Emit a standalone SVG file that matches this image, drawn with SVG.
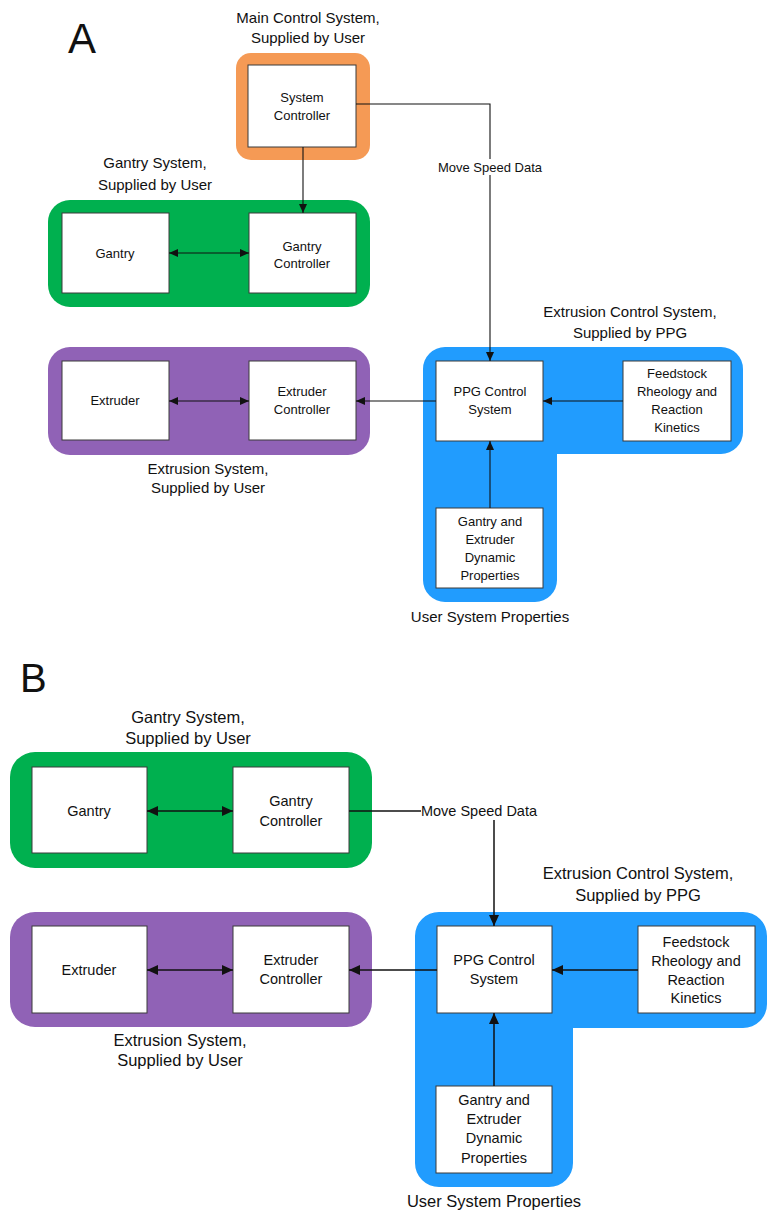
<svg xmlns="http://www.w3.org/2000/svg" width="769" height="1213" viewBox="0 0 769 1213">
<style>
text{font-family:"Liberation Sans",Arial,sans-serif;fill:#111;text-anchor:middle}
.ta{font-size:13px}
.tb{font-size:14.5px}
.tta{font-size:15px}
.ttb{font-size:16.5px}
.box{fill:#fff;stroke:#3a3a3a;stroke-width:1}
.ln{fill:none;stroke:#111;stroke-width:1.1}
.lnb{fill:none;stroke:#111;stroke-width:1.5}
.orange{fill:#F59A55}
.green{fill:#00B04F}
.purple{fill:#9062B6}
.blue{fill:#219CFE}
</style>
<defs>
<marker id="ah" markerUnits="userSpaceOnUse" markerWidth="10" markerHeight="8" refX="9" refY="4" orient="auto-start-reverse"><path d="M0,0 L9,4 L0,8 z" fill="#111"/></marker>
<marker id="bh" markerUnits="userSpaceOnUse" markerWidth="11" markerHeight="10" refX="11" refY="5" orient="auto-start-reverse"><path d="M0,0 L11,5 L0,10 z" fill="#111"/></marker>
</defs>
<rect width="769" height="1213" fill="#fff"/>

<!-- Panel A -->
<text x="68" y="53" style="font-size:42px;text-anchor:start">A</text>

<g id="a-main-system">
<text class="tta" x="308" y="23">Main Control System,</text>
<text class="tta" x="308" y="43">Supplied by User</text>
<rect class="orange" x="236" y="53" width="134" height="107" rx="15"/>
</g>
<g id="a-system-controller">
<rect class="box" x="248" y="65" width="108" height="82"/>
<text class="ta" x="302" y="102">System</text>
<text class="ta" x="302" y="120">Controller</text>
</g>

<g id="a-gantry-system">
<text class="tta" x="155" y="168">Gantry System,</text>
<text class="tta" x="155" y="190">Supplied by User</text>
<rect class="green" x="48" y="200" width="322" height="107" rx="22"/>
</g>
<g id="a-gantry">
<rect class="box" x="62" y="213" width="107" height="80"/>
<text class="ta" x="115" y="258">Gantry</text>
</g>
<g id="a-gantry-controller">
<rect class="box" x="249" y="213" width="107" height="80"/>
<text class="ta" x="302" y="251">Gantry</text>
<text class="ta" x="302" y="268">Controller</text>
</g>

<g id="a-extrusion-system">
<rect class="purple" x="48" y="347" width="322" height="108" rx="22"/>
<text class="tta" x="208" y="474">Extrusion System,</text>
<text class="tta" x="208" y="493">Supplied by User</text>
</g>
<g id="a-extruder">
<rect class="box" x="62" y="361" width="107" height="79"/>
<text class="ta" x="115" y="405">Extruder</text>
</g>
<g id="a-extruder-controller">
<rect class="box" x="249" y="361" width="107" height="79"/>
<text class="ta" x="302" y="396">Extruder</text>
<text class="ta" x="302" y="414">Controller</text>
</g>

<g id="a-extrusion-control-system">
<text class="tta" x="630" y="317">Extrusion Control System,</text>
<text class="tta" x="630" y="338">Supplied by PPG</text>
<path class="blue" d="M445,347 H721 A22,22 0 0 1 743,369 V432 A22,22 0 0 1 721,454 H557 V580 A22,22 0 0 1 535,602 H445 A22,22 0 0 1 423,580 V369 A22,22 0 0 1 445,347 Z"/>
<text class="tta" x="490" y="622">User System Properties</text>
</g>
<g id="a-ppg-control">
<rect class="box" x="436" y="361" width="107" height="80"/>
<text class="ta" x="490" y="396">PPG Control</text>
<text class="ta" x="490" y="414">System</text>
</g>
<g id="a-feedstock">
<rect class="box" x="623" y="361" width="108" height="80"/>
<text class="ta" x="677" y="378">Feedstock</text>
<text class="ta" x="677" y="396">Rheology and</text>
<text class="ta" x="677" y="414">Reaction</text>
<text class="ta" x="677" y="432">Kinetics</text>
</g>
<g id="a-dynamic">
<rect class="box" x="436" y="508" width="107" height="80"/>
<text class="ta" x="490" y="526">Gantry and</text>
<text class="ta" x="490" y="544">Extruder</text>
<text class="ta" x="490" y="562">Dynamic</text>
<text class="ta" x="490" y="580">Properties</text>
</g>

<!-- Panel B -->
<text x="20" y="692" style="font-size:40px;text-anchor:start">B</text>

<g id="b-gantry-system">
<text class="ttb" x="188" y="723">Gantry System,</text>
<text class="ttb" x="188" y="744">Supplied by User</text>
<rect class="green" x="10" y="752" width="362" height="116" rx="25"/>
</g>
<g id="b-gantry">
<rect class="box" x="32" y="767" width="115" height="86"/>
<text class="tb" x="89" y="816">Gantry</text>
</g>
<g id="b-gantry-controller">
<rect class="box" x="233" y="767" width="116" height="86"/>
<text class="tb" x="291" y="806">Gantry</text>
<text class="tb" x="291" y="826">Controller</text>
</g>

<g id="b-extrusion-system">
<rect class="purple" x="10" y="912" width="362" height="115" rx="25"/>
<text class="ttb" x="180" y="1046">Extrusion System,</text>
<text class="ttb" x="180" y="1066">Supplied by User</text>
</g>
<g id="b-extruder">
<rect class="box" x="32" y="926" width="115" height="87"/>
<text class="tb" x="89" y="975">Extruder</text>
</g>
<g id="b-extruder-controller">
<rect class="box" x="233" y="926" width="116" height="87"/>
<text class="tb" x="291" y="965">Extruder</text>
<text class="tb" x="291" y="984">Controller</text>
</g>

<g id="b-extrusion-control-system">
<text class="ttb" x="638" y="879">Extrusion Control System,</text>
<text class="ttb" x="638" y="901">Supplied by PPG</text>
<path class="blue" d="M439,912 H743 A24,24 0 0 1 767,936 V1004 A24,24 0 0 1 743,1028 H573 V1163 A24,24 0 0 1 549,1187 H439 A24,24 0 0 1 415,1163 V936 A24,24 0 0 1 439,912 Z"/>
<text class="ttb" x="494" y="1207">User System Properties</text>
</g>
<g id="b-ppg-control">
<rect class="box" x="437" y="926" width="115" height="87"/>
<text class="tb" x="494" y="965">PPG Control</text>
<text class="tb" x="494" y="984">System</text>
</g>
<g id="b-feedstock">
<rect class="box" x="638" y="926" width="117" height="87"/>
<text class="tb" x="696" y="947">Feedstock</text>
<text class="tb" x="696" y="966">Rheology and</text>
<text class="tb" x="696" y="985">Reaction</text>
<text class="tb" x="696" y="1003">Kinetics</text>
</g>
<g id="b-dynamic">
<rect class="box" x="436" y="1086" width="116" height="87"/>
<text class="tb" x="494" y="1105">Gantry and</text>
<text class="tb" x="494" y="1124">Extruder</text>
<text class="tb" x="494" y="1143">Dynamic</text>
<text class="tb" x="494" y="1163">Properties</text>
</g>

<g id="connectors">
<!-- A -->
<path class="ln" d="M356,104 H490 V361" marker-end="url(#ah)"/>
<rect x="436" y="159" width="108" height="16" fill="#fff"/>
<text class="ta" x="490" y="172">Move Speed Data</text>
<path class="ln" d="M303,147 V213" marker-end="url(#ah)"/>
<path class="ln" d="M169,253 H249" marker-start="url(#ah)" marker-end="url(#ah)"/>
<path class="ln" d="M169,401 H249" marker-start="url(#ah)" marker-end="url(#ah)"/>
<path class="ln" d="M436,401 H356" marker-end="url(#ah)"/>
<path class="ln" d="M623,401 H543" marker-end="url(#ah)"/>
<path class="ln" d="M490,508 V441" marker-end="url(#ah)"/>
<!-- B -->
<path class="lnb" d="M349,811 H421"/>
<text class="tb" x="479" y="816">Move Speed Data</text>
<path class="lnb" d="M494,820 V926" marker-end="url(#bh)"/>
<path class="lnb" d="M147,811 H233" marker-start="url(#bh)" marker-end="url(#bh)"/>
<path class="lnb" d="M147,970 H233" marker-start="url(#bh)" marker-end="url(#bh)"/>
<path class="lnb" d="M437,970 H349" marker-end="url(#bh)"/>
<path class="lnb" d="M638,970 H552" marker-end="url(#bh)"/>
<path class="lnb" d="M494,1086 V1013" marker-end="url(#bh)"/>
</g>
</svg>
